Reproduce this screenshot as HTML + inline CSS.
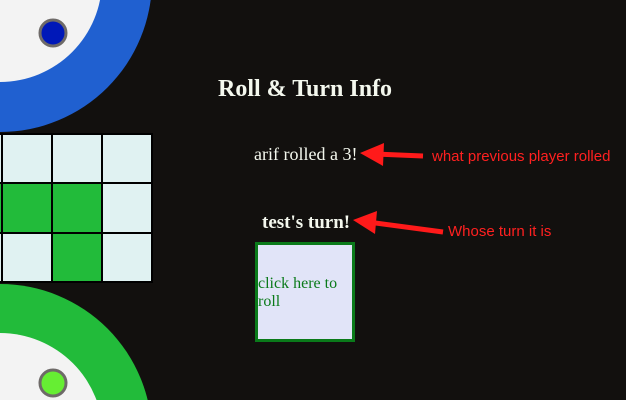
<!DOCTYPE html>
<html style="overflow:hidden"><head><style>
html,body{margin:0;width:626px;height:400px;overflow:hidden}
body{background:#12100e;position:relative;font-family:"Liberation Serif",serif}
.t{position:absolute;white-space:nowrap}
</style></head><body>
<svg width="626" height="400" style="position:absolute;left:0;top:0;display:block">
<circle cx="0" cy="-20" r="152" fill="#2060d0"/>
<circle cx="0" cy="-20" r="102" fill="#f3f3f3"/>
<circle cx="53" cy="33" r="13" fill="#0018b8" stroke="#6e6a68" stroke-width="3"/>
<circle cx="0" cy="436" r="152" fill="#22bb3a"/>
<circle cx="0" cy="436" r="103" fill="#f3f3f3"/>
<circle cx="53" cy="383" r="13" fill="#66ee33" stroke="#6e6a68" stroke-width="3"/>
<g stroke="#000" stroke-width="2">
<rect x="-48" y="134" width="50" height="49" fill="#e0f2f2"/>
<rect x="2" y="134" width="50" height="49" fill="#e0f2f2"/>
<rect x="52" y="134" width="50" height="49" fill="#e0f2f2"/>
<rect x="102" y="134" width="50" height="49" fill="#e0f2f2"/>
<rect x="-48" y="183" width="50" height="50" fill="#22bb3a"/>
<rect x="2" y="183" width="50" height="50" fill="#22bb3a"/>
<rect x="52" y="183" width="50" height="50" fill="#22bb3a"/>
<rect x="102" y="183" width="50" height="50" fill="#e0f2f2"/>
<rect x="-48" y="233" width="50" height="49" fill="#e0f2f2"/>
<rect x="2" y="233" width="50" height="49" fill="#e0f2f2"/>
<rect x="52" y="233" width="50" height="49" fill="#22bb3a"/>
<rect x="102" y="233" width="50" height="49" fill="#e0f2f2"/>
</g>
<g fill="#ff1a1a" stroke="#ff1a1a">
<line x1="423" y1="156" x2="375" y2="154" stroke-width="5"/>
<polygon points="360,153 384,143 383,166" stroke="none"/>
<line x1="443" y1="232" x2="368" y2="222" stroke-width="5"/>
<polygon points="353,220 377,211 375,234" stroke="none"/>
</g>
</svg>
<div class="t" style="left:218px;top:76px;font-size:24px;font-weight:bold;color:#f4f8ee">Roll &amp; Turn Info</div>
<div class="t" style="left:254px;top:144px;font-size:18px;color:#f4f8ee">arif rolled a 3!</div>
<div class="t" style="left:262px;top:212px;font-size:19px;font-weight:bold;color:#f4f8ee">test's turn!</div>
<div style="position:absolute;left:255px;top:242px;width:94px;height:94px;border:3px solid #0a7a1a;background:#e1e4f8"></div>
<div class="t" style="left:258px;top:275px;font-size:16px;line-height:18px;color:#0a7a1a">click here to<br>roll</div>
<div class="t" style="left:432px;top:148px;font-size:15px;color:#ff2020;font-family:'Liberation Sans',sans-serif">what previous player rolled</div>
<div class="t" style="left:448px;top:223px;font-size:15px;color:#ff2020;font-family:'Liberation Sans',sans-serif">Whose turn it is</div>
</body></html>
